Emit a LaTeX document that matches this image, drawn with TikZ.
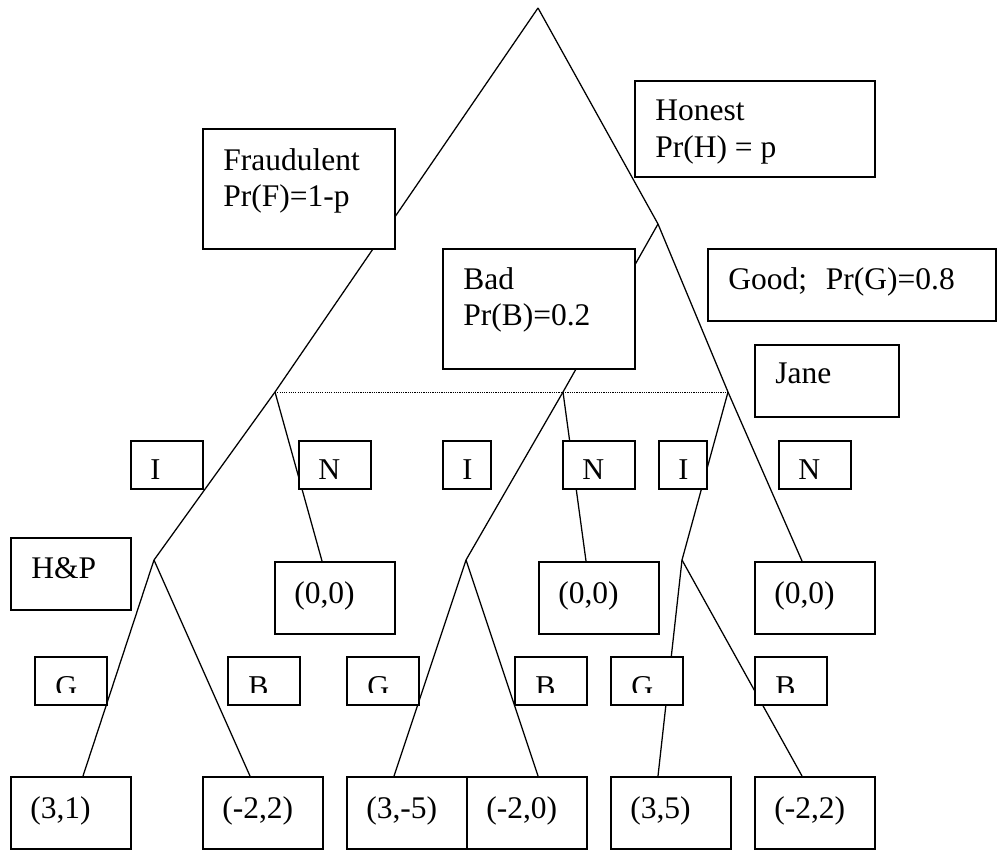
\documentclass[tikz,border=0pt]{standalone}
\usepackage{fontspec}
\setmainfont{Liberation Serif}

\begin{document}
\begin{tikzpicture}[x=0.025cm,y=-0.025cm,
	tbox/.style={draw,fill=white,line width=1.1pt,inner sep=0pt,anchor=north west},
	txt/.style={inner sep=0pt,anchor=north west,align=left,font=\fontsize{22.4}{26}\selectfont},
	movetxt/.style={inner sep=0pt,anchor=north west,font=\fontsize{21.5}{25}\selectfont},
	branch/.style={line width=0.9pt},
	infoset/.style={line width=0.6pt,dash pattern=on 0.8pt off 0.8pt}]

	\useasboundingbox (0,0) rectangle (1000,850);

	% decision points of the tree
	\coordinate (root) at (538,8);
	\coordinate (fr) at (275,392);
	\coordinate (ho) at (658,224);
	\coordinate (bd) at (563,392);
	\coordinate (gd) at (728,392);
	\coordinate (hp1) at (154,560);
	\coordinate (hp2) at (466,560);
	\coordinate (hp3) at (682,560);
	% ends of the branches
	\coordinate (e1) at (322,561);
	\coordinate (e2) at (586,561);
	\coordinate (e3) at (802,561);
	\coordinate (e4) at (83,776);
	\coordinate (e5) at (250,776);
	\coordinate (e6) at (394,776);
	\coordinate (e7) at (538,776);
	\coordinate (e8) at (658,776);
	\coordinate (e9) at (802,776);

	\draw[branch] (root) -- (fr) -- (hp1);
	\draw[branch] (root) -- (ho) -- (gd) -- (hp3);
	\draw[branch] (ho) -- (bd) -- (hp2);
	\draw[branch] (fr) -- (e1);
	\draw[branch] (bd) -- (e2);
	\draw[branch] (gd) -- (e3);
	\draw[branch] (hp1) -- (e4);
	\draw[branch] (hp1) -- (e5);
	\draw[branch] (hp2) -- (e6);
	\draw[branch] (hp2) -- (e7);
	\draw[branch] (hp3) -- (e8);
	\draw[branch] (hp3) -- (e9);
	\draw[infoset] (fr) -- (gd);

	% labels of nature and players
	\node[tbox,minimum width=4.8cm,minimum height=3cm] (fraud) at (202,128) {};
	\node[txt] at ([shift={(21,20)}]fraud.north west) {Fraudulent\\Pr(F)=1-p};
	\node[tbox,minimum width=6cm,minimum height=2.4cm] (honest) at (634,80) {};
	\node[txt] at ([shift={(21,20)}]honest.north west) {Honest\\Pr(H) = p};
	\node[tbox,minimum width=4.8cm,minimum height=3cm] (bad) at (442,248) {};
	\node[txt] at ([shift={(21,19)}]bad.north west) {Bad\\Pr(B)=0.2};
	\node[tbox,minimum width=7.2cm,minimum height=1.8cm] (good) at (707,248) {};
	\node[txt] at ([shift={(21,19)}]good.north west) {Good;\hspace{0.6em}Pr(G)=0.8};
	\node[tbox,minimum width=3.6cm,minimum height=1.8cm] (jane) at (754,344) {};
	\node[txt] at ([shift={(21,19)}]jane.north west) {Jane};
	\node[tbox,minimum width=3cm,minimum height=1.8cm] (hp) at (10,537) {};
	\node[txt] at ([shift={(21,20)}]hp.north west) {H\&P};

	% moves of Jane
	\foreach \x/\w/\t [count=\i] in {130/1.8/I,298/1.8/N,442/1.2/I,562/1.8/N,658/1.2/I,778/1.8/N}{
		\node[tbox,minimum width=\w cm,minimum height=1.2cm] (move\i) at (\x,440) {};
		\node[movetxt] at ([shift={(20,19)}]move\i.north west) {\t};
	}

	% outcomes of no investment
	\foreach \x [count=\i] in {274,538,754}{
		\node[tbox,minimum width=3cm,minimum height=1.8cm] (zero\i) at (\x,561) {};
		\node[txt] at ([shift={(20,20)}]zero\i.north west) {(0,0)};
	}

	% moves of H&P
	\foreach \x/\t [count=\i] in {34/G,227/B,346/G,514/B,610/G,754/B}{
		\node[tbox,minimum width=1.8cm,minimum height=1.2cm] (hpm\i) at (\x,656) {};
		\begin{scope}
			\clip (\x,656) rectangle ++(72,36);
			\node[movetxt] at ([shift={(21,20)}]hpm\i.north west) {\t};
		\end{scope}
	}

	% payoffs
	\foreach \x/\t [count=\i] in {10/{(3,1)},202/{(-2,2)},346/{(3,-5)},466/{(-2,0)},610/{(3,5)},754/{(-2,2)}}{
		\node[tbox,minimum width=3cm,minimum height=1.8cm] (pay\i) at (\x,776) {};
		\node[txt] at ([shift={(20,20)}]pay\i.north west) {\t};
	}
\end{tikzpicture}
\end{document}
